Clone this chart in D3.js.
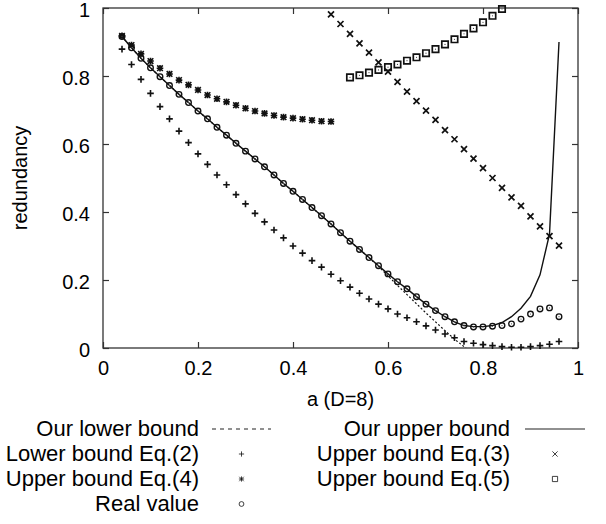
<!DOCTYPE html>
<html>
<head>
<meta charset="utf-8">
<script src="https://cdn.jsdelivr.net/npm/d3@7/dist/d3.min.js"></script>
<style>
  body { margin: 0; background: #fff; }
  text { font-family: "Liberation Sans", Arial, Helvetica, sans-serif; fill: #000; }
</style>
</head>
<body>
<div id="chart"></div>
<script>
// a values (D=8), step 0.02
var aValues = [0.04, 0.06, 0.08, 0.10, 0.12, 0.14, 0.16, 0.18, 0.20, 0.22, 0.24, 0.26,
  0.28, 0.30, 0.32, 0.34, 0.36, 0.38, 0.40, 0.42, 0.44, 0.46, 0.48, 0.50, 0.52, 0.54,
  0.56, 0.58, 0.60, 0.62, 0.64, 0.66, 0.68, 0.70, 0.72, 0.74, 0.76, 0.78, 0.80, 0.82,
  0.84, 0.86, 0.88, 0.90, 0.92, 0.94, 0.96]

var realValue = [0.916, 0.883, 0.852, 0.824, 0.798, 0.772, 0.746, 0.722, 0.697, 0.674,
  0.649, 0.626, 0.602, 0.579, 0.556, 0.533, 0.509, 0.484, 0.461, 0.437, 0.413, 0.389,
  0.365, 0.339, 0.314, 0.290, 0.266, 0.242, 0.218, 0.195, 0.174, 0.151, 0.129, 0.110,
  0.092, 0.077, 0.066, 0.062, 0.062, 0.064, 0.066, 0.071, 0.085, 0.100, 0.115, 0.118, 0.092]

var ourUpper = [0.916, 0.883, 0.852, 0.824, 0.798, 0.772, 0.746, 0.722, 0.697, 0.674,
  0.649, 0.626, 0.602, 0.579, 0.556, 0.533, 0.509, 0.484, 0.461, 0.437, 0.413, 0.389,
  0.365, 0.339, 0.314, 0.290, 0.266, 0.242, 0.218, 0.195, 0.174, 0.151, 0.129, 0.110,
  0.092, 0.077, 0.066, 0.063, 0.063, 0.066, 0.075, 0.092, 0.117, 0.152, 0.215, 0.335, 0.900]

var ourLower = [0.916, 0.883, 0.852, 0.824, 0.798, 0.772, 0.746, 0.722, 0.697, 0.674,
  0.649, 0.626, 0.602, 0.579, 0.556, 0.533, 0.509, 0.484, 0.461, 0.437, 0.413, 0.389,
  0.365, 0.339, 0.314, 0.290, 0.266, 0.240, 0.212, 0.184, 0.157, 0.130, 0.103, 0.077,
  0.051, 0.026, 0.004, -0.020]

var lowerEq2 = [0.879, 0.834, 0.790, 0.749, 0.710, 0.674, 0.638, 0.604, 0.571, 0.540,
  0.509, 0.480, 0.451, 0.424, 0.396, 0.371, 0.347, 0.324, 0.300, 0.279, 0.257, 0.238,
  0.217, 0.198, 0.179, 0.161, 0.144, 0.129, 0.115, 0.100, 0.089, 0.077, 0.065, 0.053,
  0.041, 0.030, 0.019, 0.014, 0.010, 0.007, 0.004, 0.002, 0.002, 0.004, 0.007, 0.011, 0.019]

// starts at a = 0.04
var upperEq4 = [0.918, 0.891, 0.865, 0.844, 0.823, 0.806, 0.788, 0.774, 0.759, 0.744,
  0.733, 0.724, 0.714, 0.705, 0.697, 0.690, 0.684, 0.679, 0.676, 0.673, 0.670, 0.667, 0.666]

// starts at a = 0.48
var upperEq3 = [0.981, 0.953, 0.924, 0.896, 0.869, 0.840, 0.813, 0.783, 0.754, 0.726,
  0.698, 0.671, 0.641, 0.614, 0.585, 0.557, 0.529, 0.500, 0.471, 0.443, 0.418, 0.387,
  0.358, 0.329, 0.301]

// starts at a = 0.52
var upperEq5 = [0.796, 0.802, 0.810, 0.818, 0.826, 0.834, 0.845, 0.855, 0.867, 0.879,
  0.893, 0.908, 0.924, 0.940, 0.958, 0.977, 0.997]

var tickValues = [0, 0.2, 0.4, 0.6, 0.8, 1]
var tickLabels = ['0', '0.2', '0.4', '0.6', '0.8', '1']

var leftLegend = [
  { label: 'Our lower bound', type: 'dotted' },
  { label: 'Lower bound Eq.(2)', type: 'plus' },
  { label: 'Upper bound Eq.(4)', type: 'star' },
  { label: 'Real value', type: 'circle' }
]
var rightLegend = [
  { label: 'Our upper bound', type: 'solid' },
  { label: 'Upper bound Eq.(3)', type: 'cross' },
  { label: 'Upper bound Eq.(5)', type: 'square' }
]

function pairs(values, start) {
  var i0 = aValues.indexOf(start)
  return values.map(function (v, i) { return [aValues[i0 + i], v] })
}

var width = 606, height = 524
var svg = d3.select('#chart').append('svg')
  .attr('width', width)
  .attr('height', height)

var x = d3.scaleLinear().domain([0, 1]).range([103, 578])
var y = d3.scaleLinear().domain([0, 1]).range([348, 8])

// clip
svg.append('clipPath').attr('id', 'clip')
  .append('rect')
  .attr('x', x(0)).attr('y', y(1))
  .attr('width', x(1) - x(0)).attr('height', y(0) - y(1))

// axes
function styleAxis(g) {
  g.select('.domain').remove()
  g.selectAll('.tick line').attr('stroke', '#333').attr('stroke-width', 1.2)
  g.selectAll('.tick text').style('font-size', '20px').attr('fill', '#000')
}
svg.append('g').attr('transform', 'translate(0,' + y(0) + ')')
  .call(d3.axisBottom(x).tickValues(tickValues)
    .tickFormat(function (d, i) { return tickLabels[i] })
    .tickSizeInner(-6).tickSizeOuter(0).tickPadding(13))
  .call(styleAxis)
svg.append('g').attr('transform', 'translate(' + x(0) + ',0)')
  .call(d3.axisLeft(y).tickValues(tickValues)
    .tickFormat(function (d, i) { return tickLabels[i] })
    .tickSizeInner(-6).tickSizeOuter(0).tickPadding(13))
  .call(styleAxis)
  .selectAll('.tick text').attr('dy', '0.42em')
svg.append('g').attr('transform', 'translate(0,' + y(1) + ')')
  .call(d3.axisTop(x).tickValues(tickValues).tickFormat('')
    .tickSizeInner(-6).tickSizeOuter(0))
  .call(styleAxis)
svg.append('g').attr('transform', 'translate(' + x(1) + ',0)')
  .call(d3.axisRight(y).tickValues(tickValues).tickFormat('')
    .tickSizeInner(-6).tickSizeOuter(0))
  .call(styleAxis)

svg.append('rect')
  .attr('x', x(0)).attr('y', y(1))
  .attr('width', x(1) - x(0)).attr('height', y(0) - y(1))
  .attr('fill', 'none').attr('stroke', '#333').attr('stroke-width', 1.3)

// axis labels
svg.append('text')
  .attr('x', (x(0) + x(1)) / 2).attr('y', 406)
  .attr('text-anchor', 'middle').style('font-size', '20px')
  .text('a (D=8)')
svg.append('text')
  .attr('transform', 'translate(27,' + (y(0) + y(1)) / 2 + ') rotate(-90)')
  .attr('text-anchor', 'middle').style('font-size', '20px')
  .text('redundancy')

// marker shapes
function markerPath(type, s) {
  if (type == 'plus') return 'M' + (-s) + ',0H' + s + 'M0,' + (-s) + 'V' + s
  if (type == 'cross') return 'M' + (-s) + ',' + (-s) + 'L' + s + ',' + s + 'M' + (-s) + ',' + s + 'L' + s + ',' + (-s)
  if (type == 'star') return markerPath('plus', s) + markerPath('cross', s * 0.85)
  if (type == 'square') return 'M' + (-s) + ',' + (-s) + 'H' + s + 'V' + s + 'H' + (-s) + 'Z'
  return ''
}

function drawMarker(g, type, cx, cy, s, sw) {
  if (type == 'circle') {
    g.append('circle').attr('cx', cx).attr('cy', cy).attr('r', s)
      .attr('fill', 'none').attr('stroke', '#111').attr('stroke-width', sw)
  } else {
    g.append('path').attr('transform', 'translate(' + cx + ',' + cy + ')')
      .attr('d', markerPath(type, s))
      .attr('fill', 'none').attr('stroke', '#111').attr('stroke-width', sw)
  }
}

var plot = svg.append('g').attr('clip-path', 'url(#clip)')

var line = d3.line()
  .x(function (d) { return x(d[0]) })
  .y(function (d) { return y(d[1]) })

plot.append('path').datum(pairs(ourLower, 0.04))
  .attr('d', line).attr('fill', 'none')
  .attr('stroke', '#111').attr('stroke-width', 1.2).attr('stroke-dasharray', '2,2')
plot.append('path').datum(pairs(ourUpper, 0.04))
  .attr('d', line).attr('fill', 'none')
  .attr('stroke', '#111').attr('stroke-width', 1.4)

var series = [
  { values: pairs(lowerEq2, 0.04), type: 'plus', s: 3.3, sw: 1.6 },
  { values: pairs(upperEq4, 0.04), type: 'star', s: 3.3, sw: 1.6 },
  { values: pairs(upperEq3, 0.48), type: 'cross', s: 3, sw: 1.7 },
  { values: pairs(upperEq5, 0.52), type: 'square', s: 3.2, sw: 1.7 },
  { values: pairs(realValue, 0.04), type: 'circle', s: 2.8, sw: 1.35 }
]
var markers = svg.append('g')
series.forEach(function (sr) {
  sr.values.forEach(function (d) {
    drawMarker(markers, sr.type, x(d[0]), y(d[1]), sr.s, sr.sw)
    if (sr.type == 'circle' || sr.type == 'square') {
      markers.append('circle').attr('cx', x(d[0])).attr('cy', y(d[1])).attr('r', 0.6).attr('fill', '#444')
    }
  })
})

// legend
function drawLegend(items, textRight, sampleX0, sampleX1) {
  var lg = svg.append('g')
  items.forEach(function (it, i) {
    var base = 436 + i * 25
    lg.append('text')
      .attr('x', textRight).attr('y', base)
      .attr('text-anchor', 'end').style('font-size', '22px')
      .text(it.label)
    var cy = base - 7
    if (it.type == 'dotted' || it.type == 'solid') {
      lg.append('line')
        .attr('x1', sampleX0).attr('x2', sampleX1).attr('y1', cy).attr('y2', cy)
        .attr('stroke', '#222').attr('stroke-width', 1.1)
        .attr('stroke-dasharray', it.type == 'dotted' ? '4,4' : null)
    } else {
      drawMarker(lg, it.type, (sampleX0 + sampleX1) / 2, cy, it.type == 'circle' ? 2.4 : 2.6, 0.8)
    }
  })
}
drawLegend(leftLegend, 199, 212, 271)
drawLegend(rightLegend, 510, 525, 585)
</script>
</body>
</html>
